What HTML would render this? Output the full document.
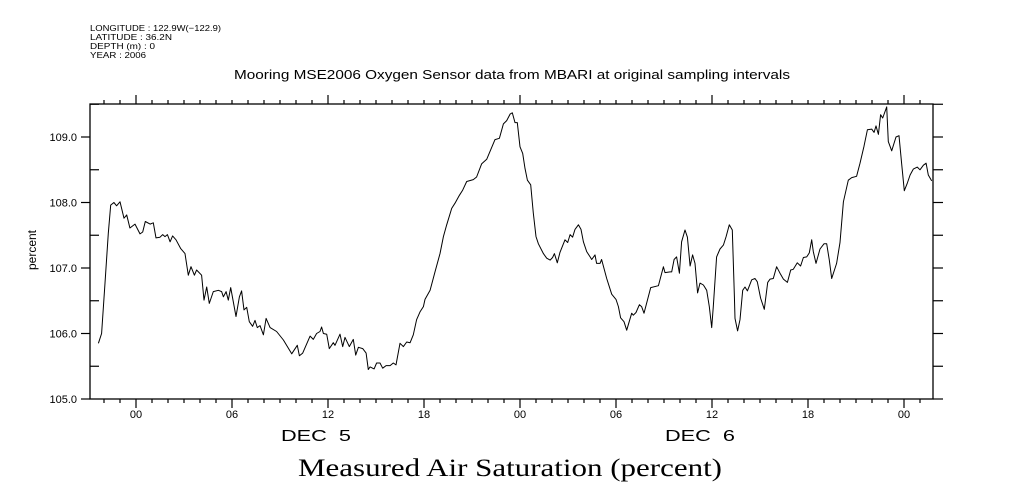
<!DOCTYPE html>
<html><head><meta charset="utf-8">
<style>
html,body{margin:0;padding:0;background:#fff;}
svg{display:block;font-family:"Liberation Sans",sans-serif;}
</style></head>
<body>
<svg id="chart" width="1009" height="504" viewBox="0 0 1009 504">
  <g font-size="8.5" fill="#000">
    <text x="90" y="31" textLength="131" lengthAdjust="spacingAndGlyphs">LONGITUDE : 122.9W(−122.9)</text>
    <text x="90" y="40" textLength="82" lengthAdjust="spacingAndGlyphs">LATITUDE : 36.2N</text>
    <text x="90" y="49" textLength="65" lengthAdjust="spacingAndGlyphs">DEPTH (m) : 0</text>
    <text x="90" y="58" textLength="56" lengthAdjust="spacingAndGlyphs">YEAR : 2006</text>
  </g>
  <text x="234" y="79" textLength="556" lengthAdjust="spacingAndGlyphs" font-size="13">Mooring MSE2006 Oxygen Sensor data from MBARI at original sampling intervals</text>
  <text transform="translate(36,250) rotate(-90)" text-anchor="middle" font-size="12">percent</text>
  <text x="298" y="476" textLength="424" lengthAdjust="spacingAndGlyphs" font-family="'Liberation Serif',serif" font-size="25">Measured Air Saturation (percent)</text>
  <g id="axes"></g>
  <g id="plot"></g>
</svg>
<script>
const hours = [-2.35,-2.15,-1.94,-1.73,-1.58,-1.38,-1.21,-1.00,-0.75,-0.58,-0.38,-0.06,0.25,0.42,0.58,0.88,1.08,1.25,1.50,1.67,1.81,1.96,2.13,2.29,2.50,2.79,3.06,3.27,3.44,3.65,3.79,4.10,4.25,4.42,4.58,4.83,5.15,5.35,5.46,5.63,5.77,5.92,6.25,6.46,6.60,6.75,6.92,7.08,7.29,7.44,7.58,7.75,7.96,8.13,8.38,8.79,9.21,9.73,10.08,10.21,10.42,10.88,11.08,11.29,11.50,11.60,11.71,11.92,12.08,12.33,12.44,12.75,12.92,13.06,13.33,13.58,13.73,13.90,14.17,14.38,14.52,14.63,14.88,15.04,15.25,15.42,15.63,15.88,16.08,16.25,16.50,16.71,16.92,17.13,17.33,17.54,17.75,17.96,18.06,18.38,18.69,19.00,19.21,19.42,19.73,19.94,20.21,20.42,20.67,21.08,21.29,21.60,21.92,22.44,22.71,22.96,23.17,23.38,23.52,23.69,23.83,24.00,24.17,24.31,24.46,24.67,24.83,25.00,25.15,25.46,25.67,25.88,26.04,26.15,26.33,26.50,26.81,26.98,27.13,27.29,27.44,27.65,27.81,27.96,28.17,28.38,28.48,28.69,28.79,29.00,29.10,29.42,29.73,30.00,30.15,30.29,30.50,30.67,30.98,31.08,31.25,31.46,31.60,31.75,32.17,32.65,32.96,33.06,33.38,33.48,33.63,33.79,33.96,34.10,34.31,34.46,34.63,34.79,34.94,35.10,35.25,35.46,35.67,35.83,35.98,36.08,36.29,36.50,36.71,36.88,37.08,37.27,37.40,37.44,37.60,37.75,37.92,38.06,38.21,38.48,38.69,38.83,39.04,39.27,39.48,39.63,39.83,40.04,40.25,40.46,40.71,40.92,41.08,41.33,41.54,41.71,41.92,42.08,42.23,42.33,42.50,42.75,43.00,43.17,43.33,43.48,43.79,44.00,44.21,44.52,44.73,45.04,45.25,45.50,45.71,45.98,46.13,46.25,46.40,46.54,46.67,46.92,47.02,47.23,47.50,47.69,47.85,48.02,48.21,48.38,48.58,48.83,49.00,49.21,49.38,49.52,49.73];
const values = [105.85,106.00,106.77,107.53,107.96,108.00,107.95,108.01,107.76,107.81,107.61,107.67,107.52,107.55,107.71,107.67,107.69,107.46,107.47,107.51,107.48,107.51,107.40,107.49,107.43,107.30,107.22,106.89,107.02,106.89,106.97,106.89,106.51,106.71,106.46,106.64,106.66,106.64,106.56,106.64,106.51,106.70,106.26,106.56,106.65,106.36,106.40,106.18,106.11,106.20,106.09,106.12,105.98,106.23,106.09,106.03,105.90,105.69,105.82,105.66,105.70,105.96,105.91,106.00,106.03,106.10,106.00,105.99,105.77,105.86,105.82,105.99,105.80,105.94,105.80,105.91,105.67,105.79,105.77,105.70,105.45,105.49,105.46,105.55,105.55,105.47,105.51,105.51,105.55,105.52,105.85,105.80,105.87,105.86,105.98,106.21,106.33,106.41,106.52,106.66,106.94,107.22,107.48,107.66,107.91,107.99,108.11,108.19,108.32,108.35,108.39,108.59,108.66,108.96,108.98,109.20,109.25,109.35,109.37,109.22,109.22,108.85,108.75,108.52,108.34,108.27,107.84,107.48,107.37,107.22,107.15,107.12,107.16,107.22,107.08,107.24,107.43,107.39,107.51,107.47,107.59,107.66,107.59,107.40,107.25,107.17,107.13,107.20,107.07,107.07,107.13,106.84,106.60,106.52,106.41,106.24,106.18,106.05,106.31,106.28,106.32,106.44,106.41,106.31,106.70,106.73,107.02,106.93,106.94,106.94,107.13,107.17,106.92,107.40,107.58,107.47,107.03,107.20,107.07,106.62,106.77,106.74,106.66,106.41,106.09,106.41,107.17,107.29,107.35,107.48,107.66,107.58,106.56,106.23,106.04,106.21,106.66,106.71,106.65,106.82,106.84,106.79,106.54,106.37,106.78,106.83,106.84,107.02,106.92,106.83,106.78,106.97,106.98,107.08,107.03,107.16,107.17,107.23,107.43,107.25,107.07,107.29,107.37,107.37,107.12,106.84,107.07,107.39,108.01,108.34,108.38,108.40,108.60,108.86,109.11,109.12,109.07,109.17,109.04,109.34,109.29,109.46,108.93,108.79,109.00,109.02,108.60,108.18,108.30,108.42,108.51,108.54,108.50,108.57,108.60,108.42,108.33];
const yTicks = [105, 106, 107, 108, 109];
const yTickLabels = ["105.0", "106.0", "107.0", "108.0", "109.0"];
const xMajorHours = [0, 6, 12, 18, 24, 30, 36, 42, 48];
const xMajorLabels = ["00", "06", "12", "18", "00", "06", "12", "18", "00"];
const dayHours = [12, 36];
const dayLabels = ["DEC  5", "DEC  6"];

const L = 90, R = 933, T = 104, B = 399;
const x = h => 136 + h * 16;
const y = v => 399 - (v - 105) * 65.5;
const NS = "http://www.w3.org/2000/svg";
const axes = document.getElementById('axes');
const plot = document.getElementById('plot');
function mk(tag, attrs, parent) {
  const e = document.createElementNS(NS, tag);
  for (const k in attrs) e.setAttribute(k, attrs[k]);
  parent.appendChild(e);
  return e;
}
const frame = mk('rect', {x: L, y: T, width: R - L, height: B - T, fill: 'none', stroke: '#000', 'stroke-width': 1.3}, axes);



for (let h = -2; h <= 49; h++) {
  const px = x(h);
  const isMaj = h % 6 === 0;
  const isTop = h % 12 === 0;
  const tb = mk('line', {x1: px, x2: px, y1: B, y2: B + (isMaj ? 9 : 4), stroke: '#000', 'stroke-width': 1.2}, axes);
  
  
  const tt = mk('line', {x1: px, x2: px, y1: T, y2: T - (isTop ? 9 : 4), stroke: '#000', 'stroke-width': 1.2}, axes);
  
  
}
xMajorHours.forEach((h, i) => {
  const t = mk('text', {x: x(h), y: 418, 'text-anchor': 'middle', 'font-size': 11}, axes);
  t.textContent = xMajorLabels[i];
  
  
});
dayHours.forEach((h, i) => {
  const t = mk('text', {x: x(h) - 47, y: 441, 'font-size': 16, textLength: 70, lengthAdjust: 'spacingAndGlyphs'}, axes);
  t.textContent = dayLabels[i];
  t.style.whiteSpace = 'pre';
  
  
});
for (let v = 105; v <= 109.5; v += 0.5) {
  const py = y(v);
  const major = Math.abs(v - Math.round(v)) < 0.01;
  const tl = mk('line', {x1: L - (major ? 9 : 0), x2: L + (major ? 0 : 9), y1: py, y2: py, stroke: '#000', 'stroke-width': 1.2}, axes);
  
  
  const tr = mk('line', {x1: R, x2: R + 10, y1: py, y2: py, stroke: '#000', 'stroke-width': 1.2}, axes);
  
  
}
yTicks.forEach((v, i) => {
  const t = mk('text', {x: 77, y: y(v) + 4, 'text-anchor': 'end', 'font-size': 11}, axes);
  t.textContent = yTickLabels[i];
  
  
});
const d = hours.map((h, i) => (i ? 'L' : 'M') + x(h).toFixed(1) + ',' + y(values[i]).toFixed(1)).join(' ');
const line = mk('path', {d: d, fill: 'none', stroke: '#000', 'stroke-width': 1, 'stroke-linejoin': 'round'}, plot);


</script>
</body></html>
